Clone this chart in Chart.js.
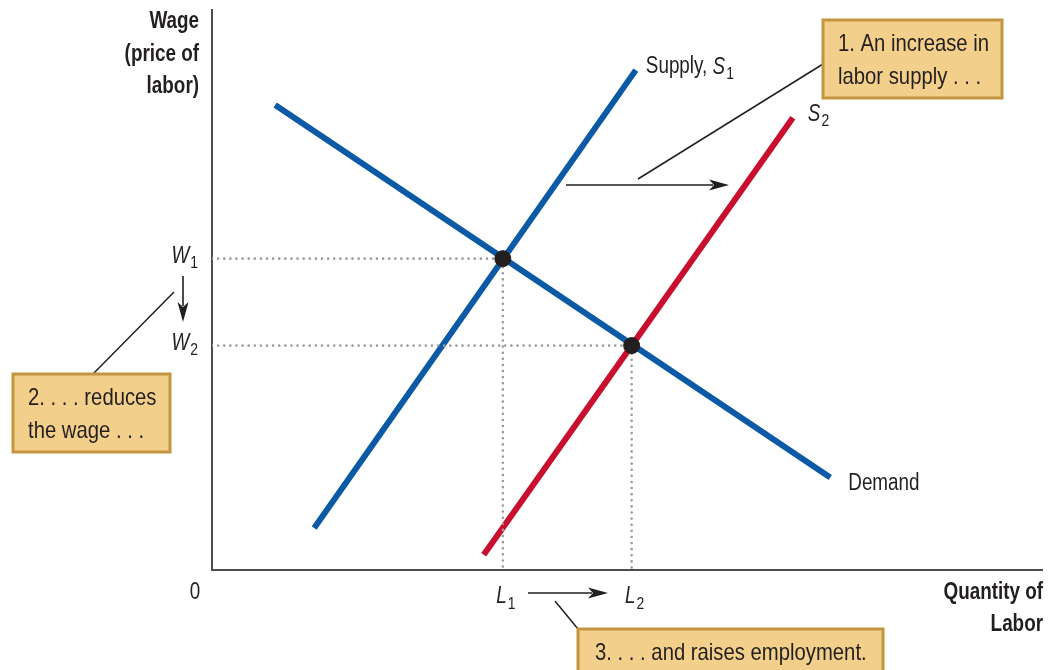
<!DOCTYPE html>
<html>
<head>
<meta charset="utf-8">
<script src="https://cdn.jsdelivr.net/npm/chart.js@4.4.1/dist/chart.umd.min.js"></script>
<style>
  html, body { margin: 0; padding: 0; background: #ffffff; }
  #wrap { width: 1064px; height: 670px; position: relative; }
</style>
</head>
<body>
<div id="wrap"><canvas id="c" width="1064" height="670"></canvas></div>
<script>
// Labor market: an increase in labor supply shifts S1 to S2
const demandX  = [7.6, 74.4];
const demandY  = [82.9, 16.5];
const supply1X = [12.3, 51.0];
const supply1Y = [7.5, 89.1];
const supply2X = [32.7, 69.9];
const supply2Y = [2.7, 80.6];
// equilibrium wage / employment before and after the shift
const eqL = [35.0, 50.5];
const eqW = [55.5, 40.0];
const wageTickLabels  = ['W', 'W'];
const wageTickSubs    = ['1', '2'];
const laborTickLabels = ['L', 'L'];
const laborTickSubs   = ['1', '2'];

const FONT = '"Liberation Sans", Arimo, Arial, sans-serif';
const SQUEEZE = 0.82;   // horizontal compression for a condensed look
const INK = '#231f20';
const BLUE = '#0c5aa6';
const RED = '#c8102e';

function pts(xs, ys) { return xs.map((x, i) => ({ x: x, y: ys[i] })); }

function fontOf(o) {
  return (o.italic ? 'italic ' : '') + (o.bold ? 'bold ' : '') + o.size + 'px ' + FONT;
}
function widthOf(ctx, s, o) {
  ctx.save(); ctx.font = fontOf(o); const w = ctx.measureText(s).width * (o.squeeze || SQUEEZE); ctx.restore();
  return w;
}
// condensed text, returns the right edge
function txt(ctx, s, x, y, o) {
  const w = widthOf(ctx, s, o);
  let x0 = x;
  if (o.align === 'right') x0 = x - w;
  else if (o.align === 'center') x0 = x - w / 2;
  ctx.save();
  ctx.font = fontOf(o);
  ctx.fillStyle = INK;
  ctx.textAlign = 'left';
  ctx.textBaseline = 'middle';
  ctx.translate(x0, y);
  ctx.scale(o.squeeze || SQUEEZE, 1);
  ctx.fillText(s, 0, 0);
  ctx.restore();
  return x0 + w;
}
function subTxt(ctx, main, sub, x, y, align, size) {
  const mo = { size: size, italic: true };
  const so = { size: Math.round(size * 0.72) };
  const total = widthOf(ctx, main, mo) + 1 + widthOf(ctx, sub, so);
  let x0 = x;
  if (align === 'right') x0 = x - total;
  else if (align === 'center') x0 = x - total / 2;
  const e = txt(ctx, main, x0, y, mo);
  return txt(ctx, sub, e + 1, y + size * 0.3, so);
}

function arrow(ctx, x1, y1, x2, y2) {
  const a = Math.atan2(y2 - y1, x2 - x1);
  const len = 20, half = 5.5;
  const bx = x2 - len * Math.cos(a), by = y2 - len * Math.sin(a);
  ctx.save();
  ctx.strokeStyle = INK; ctx.fillStyle = INK; ctx.lineWidth = 1.6;
  ctx.beginPath(); ctx.moveTo(x1, y1); ctx.lineTo(bx + 4 * Math.cos(a), by + 4 * Math.sin(a)); ctx.stroke();
  ctx.beginPath();
  ctx.moveTo(x2, y2);
  ctx.lineTo(bx - half * Math.sin(a), by + half * Math.cos(a));
  ctx.lineTo(bx + 5 * Math.cos(a), by + 5 * Math.sin(a));
  ctx.lineTo(bx + half * Math.sin(a), by - half * Math.cos(a));
  ctx.closePath(); ctx.fill();
  ctx.restore();
}

function line(ctx, x1, y1, x2, y2) {
  ctx.save();
  ctx.strokeStyle = INK; ctx.lineWidth = 1.5;
  ctx.beginPath(); ctx.moveTo(x1, y1); ctx.lineTo(x2, y2); ctx.stroke();
  ctx.restore();
}

function callout(ctx, x, y, w, h, lines, tx, lh) {
  ctx.save();
  ctx.fillStyle = '#f2cf8b';
  ctx.strokeStyle = '#c3953f';
  ctx.lineWidth = 3;
  ctx.fillRect(x, y, w, h);
  ctx.strokeRect(x, y, w, h);
  ctx.restore();
  lines.forEach((t, i) => txt(ctx, t, tx, y + 24 + i * lh, { size: 24, squeeze: 0.845 }));
}

const decor = {
  id: 'decor',
  beforeDatasetsDraw(chart) {
    const { ctx, chartArea: a } = chart;
    ctx.save();
    ctx.strokeStyle = '#4d4d4f';
    ctx.lineWidth = 2;
    ctx.beginPath();
    ctx.moveTo(a.left, a.top);
    ctx.lineTo(a.left, a.bottom);
    ctx.lineTo(a.right, a.bottom);
    ctx.stroke();
    ctx.restore();
  },
  afterDraw(chart) {
    const { ctx, chartArea: a, scales: { x, y } } = chart;

    // axis titles
    const bold = { size: 23, bold: true, align: 'right' };
    ['Wage', '(price of', 'labor)'].forEach((t, i) => txt(ctx, t, a.left - 13, 22 + i * 32.5, bold));
    txt(ctx, 'Quantity of', a.right, a.bottom + 23, bold);
    txt(ctx, 'Labor', a.right, a.bottom + 55, bold);

    // origin
    txt(ctx, '0', a.left - 17, a.bottom + 23, { size: 23, align: 'center' });

    // wage and employment ticks
    eqW.forEach((w, i) => subTxt(ctx, wageTickLabels[i], wageTickSubs[i], a.left - 14, y.getPixelForValue(w) - 2, 'right', 23));
    eqL.forEach((l, i) => subTxt(ctx, laborTickLabels[i], laborTickSubs[i], x.getPixelForValue(l) + 3, a.bottom + 27, 'center', 23));

    // curve labels
    const s1x = x.getPixelForValue(supply1X[1]), s1y = y.getPixelForValue(supply1Y[1]);
    const e = txt(ctx, 'Supply, ', s1x + 10, s1y - 3, { size: 23 });
    subTxt(ctx, 'S', '1', e, s1y - 3, 'left', 23);
    const s2x = x.getPixelForValue(supply2X[1]), s2y = y.getPixelForValue(supply2Y[1]);
    subTxt(ctx, 'S', '2', s2x + 15, s2y - 3, 'left', 23);
    const dx = x.getPixelForValue(demandX[1]), dy = y.getPixelForValue(demandY[1]);
    txt(ctx, 'Demand', dx + 18, dy + 6, { size: 23 });

    // shift arrows
    arrow(ctx, 566, 185, 729, 185);
    arrow(ctx, 183, 276, 183, 322);
    arrow(ctx, 528, 593, 608, 593);

    // leader lines
    line(ctx, 823, 64, 638, 179);
    line(ctx, 174, 292, 93, 374);
    line(ctx, 555, 601, 578, 629);

    // callouts
    callout(ctx, 823, 20, 179, 78, ['1. An increase in', 'labor supply . . .'], 838, 33);
    callout(ctx, 13, 374, 157, 78, ['2. . . . reduces', 'the wage . . .'], 28, 33);
    callout(ctx, 578, 629, 305, 46, ['3. . . . and raises employment.'], 595, 33);
  }
};

// dotted guides sit above the curves but below the equilibrium dots
const guides = eqL.map((l, i) => ({
  label: 'guide' + i,
  order: 1,
  data: [{ x: 0, y: eqW[i] }, { x: l, y: eqW[i] }, { x: l, y: 0 }],
  showLine: true, borderColor: '#9b9b9b', borderWidth: 2.6,
  borderDash: [0.01, 6.1], borderCapStyle: 'round', pointRadius: 0, fill: false
}));

new Chart(document.getElementById('c'), {
  type: 'scatter',
  data: {
    datasets: [
      { label: 'Equilibrium', order: 0, data: pts(eqL, eqW), showLine: false, pointRadius: 8, pointHoverRadius: 8,
        backgroundColor: INK, borderColor: INK, pointBackgroundColor: INK, pointBorderColor: INK, pointBorderWidth: 1 },
      ...guides,
      { label: 'Demand', order: 2, data: pts(demandX, demandY), showLine: true, borderColor: BLUE, borderWidth: 6, borderCapStyle: 'butt', pointRadius: 0 },
      { label: 'S2', order: 3, data: pts(supply2X, supply2Y), showLine: true, borderColor: RED, borderWidth: 6, borderCapStyle: 'butt', pointRadius: 0 },
      { label: 'Supply, S1', order: 4, data: pts(supply1X, supply1Y), showLine: true, borderColor: BLUE, borderWidth: 6, borderCapStyle: 'butt', pointRadius: 0 }
    ]
  },
  options: {
    responsive: false,
    animation: false,
    layout: { padding: { left: 212, right: 21, top: 8, bottom: 100 } },
    plugins: { legend: { display: false }, tooltip: { enabled: false } },
    scales: {
      x: { type: 'linear', min: 0, max: 100, display: false },
      y: { type: 'linear', min: 0, max: 100, display: false }
    }
  },
  plugins: [decor]
});
</script>
</body>
</html>
